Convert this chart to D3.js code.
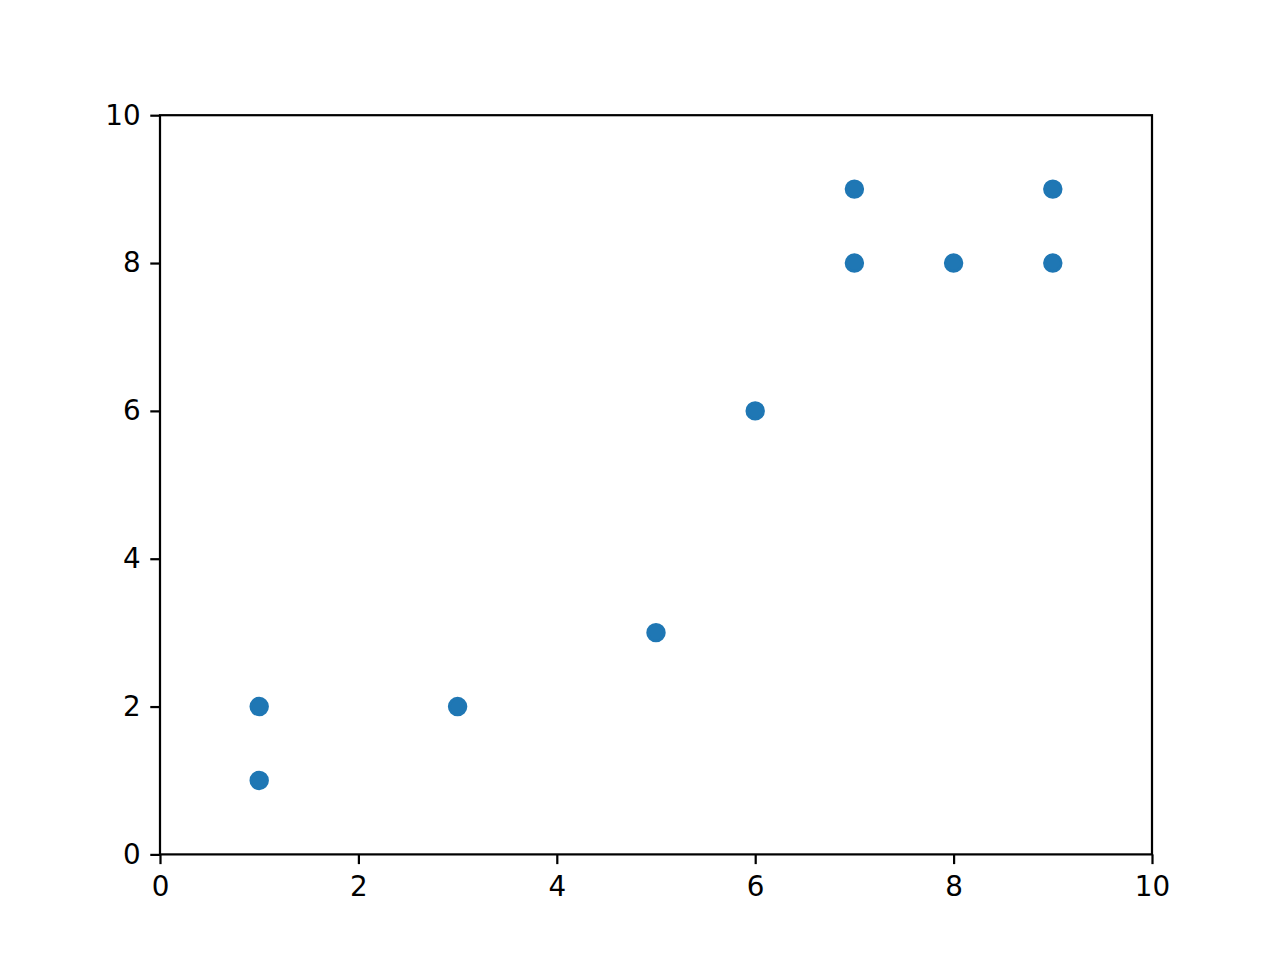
<!DOCTYPE html>
<html>
<head>
<meta charset="utf-8">
<script src="https://cdn.jsdelivr.net/npm/d3@7"></script>
<style>
html,body{margin:0;padding:0;background:#fff;}
svg{display:block;}
</style>
</head>
<body>
<svg id="chart" width="1280" height="960"></svg>
<script>
const xValues = [1, 1, 3, 5, 6, 7, 7, 8, 9, 9];
const yValues = [1, 2, 2, 3, 6, 8, 9, 8, 8, 9];
const xTicks = [0, 2, 4, 6, 8, 10];
const yTicks = [0, 2, 4, 6, 8, 10];

const W = 1280, H = 960;
const margin = {left: 160, right: 1280 - 1152, top: 115.2, bottom: 960 - 854.4};
const svg = d3.select("#chart");
const x = d3.scaleLinear().domain([0, 10]).range([margin.left, W - margin.right]);
const y = d3.scaleLinear().domain([0, 10]).range([H - margin.bottom, margin.top]);

const tickLen = 3.5 * 200 / 72, pad = 3.5 * 200 / 72, lw = 0.8 * 200 / 72;
const fontSize = 10 * 200 / 72;

const data = xValues.map((v, i) => ({x: v, y: yValues[i]}));
svg.append("g").selectAll("circle").data(data).join("circle")
  .attr("cx", d => x(d.x)).attr("cy", d => y(d.y))
  .attr("r", 3 * 200 / 72).attr("fill", "#1f77b4")
  .attr("stroke", "#1f77b4").attr("stroke-width", 200 / 72);

const xAxis = d3.axisBottom(x).tickValues(xTicks).tickSize(tickLen).tickPadding(pad + 2.5).tickFormat(d3.format("d"));
const yAxis = d3.axisLeft(y).tickValues(yTicks).tickSize(tickLen).tickPadding(pad).tickFormat(d3.format("d"));

const gx = svg.append("g").attr("transform", `translate(0,${y(0)})`).call(xAxis);
const gy = svg.append("g").attr("transform", `translate(${x(0)},0)`).call(yAxis);
[gx, gy].forEach(g => {
  g.select(".domain").remove();
  g.selectAll(".tick line").attr("stroke", "#000").attr("stroke-width", lw);
  g.selectAll(".tick text").attr("fill", "#000")
    .style("font-family", "DejaVu Sans").style("font-size", fontSize + "px");
});
gx.selectAll(".tick line").attr("y2", tickLen);

svg.append("rect")
  .attr("x", x(0)).attr("y", y(10))
  .attr("width", x(10) - x(0)).attr("height", y(0) - y(10))
  .attr("fill", "none").attr("stroke", "#000").attr("stroke-width", lw)
  .attr("stroke-linejoin", "miter");
</script>
</body>
</html>
